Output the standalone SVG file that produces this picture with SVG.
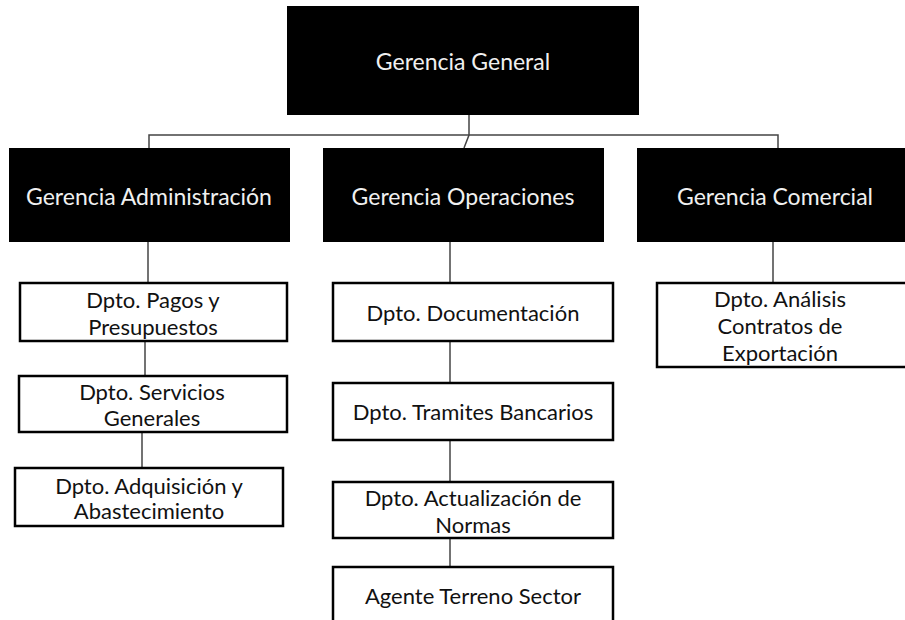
<svg xmlns="http://www.w3.org/2000/svg" width="905" height="620" viewBox="0 0 905 620">
<style>
.dark{fill:#000;stroke:none}
.light{fill:#fff;stroke:#000;stroke-width:2.5}
text{font-family:Lato,"Open Sans","Liberation Sans",sans-serif;font-size:22px;text-anchor:middle}
.w{fill:#f0f0f0;font-size:23px}
.b{fill:#111}
.c{fill:none;stroke:#444;stroke-width:1.5}
</style>
<rect width="905" height="620" fill="#fff"/>
<g id="connectors">
<polyline class="c" points="469,115 469,135 464,148"/>
<polyline class="c" points="149,148 149,135 778,135 778,148"/>
<line class="c" x1="148" y1="242" x2="148" y2="283"/>
<line class="c" x1="145" y1="341" x2="145" y2="376"/>
<line class="c" x1="142" y1="432" x2="142" y2="468"/>
<line class="c" x1="450" y1="242" x2="450" y2="283"/>
<line class="c" x1="450" y1="341" x2="450" y2="383"/>
<line class="c" x1="450" y1="440" x2="450" y2="482"/>
<line class="c" x1="450" y1="538" x2="450" y2="567"/>
<line class="c" x1="773" y1="242" x2="773" y2="283"/>
</g>
<g id="gerencia-general">
<rect class="dark" x="287" y="6" width="352" height="109"/>
<text class="w" x="463" y="70">Gerencia General</text>
</g>
<g id="gerencia-administracion">
<rect class="dark" x="9" y="148" width="281" height="94"/>
<text class="w" x="149" y="205">Gerencia Administración</text>
</g>
<g id="gerencia-operaciones">
<rect class="dark" x="323" y="148" width="281" height="94"/>
<text class="w" x="463" y="205">Gerencia Operaciones</text>
</g>
<g id="gerencia-comercial">
<rect class="dark" x="637" y="148" width="270" height="94"/>
<text class="w" x="775" y="205">Gerencia Comercial</text>
</g>
<g id="dpto-pagos">
<rect class="light" x="20" y="283" width="267" height="58"/>
<text class="b" x="153" y="308">Dpto. Pagos y</text>
<text class="b" x="153" y="335">Presupuestos</text>
</g>
<g id="dpto-servicios">
<rect class="light" x="19" y="376" width="268" height="56"/>
<text class="b" x="152" y="400">Dpto. Servicios</text>
<text class="b" x="152" y="426">Generales</text>
</g>
<g id="dpto-adquisicion">
<rect class="light" x="15" y="468" width="268" height="58"/>
<text class="b" x="149" y="494">Dpto. Adquisición y</text>
<text class="b" x="149" y="519">Abastecimiento</text>
</g>
<g id="dpto-documentacion">
<rect class="light" x="333" y="283" width="280" height="58"/>
<text class="b" x="473" y="321">Dpto. Documentación</text>
</g>
<g id="dpto-tramites">
<rect class="light" x="333" y="383" width="280" height="57"/>
<text class="b" x="473" y="420">Dpto. Tramites Bancarios</text>
</g>
<g id="dpto-actualizacion">
<rect class="light" x="333" y="482" width="280" height="56"/>
<text class="b" x="473" y="506">Dpto. Actualización de</text>
<text class="b" x="473" y="533">Normas</text>
</g>
<g id="agente-terreno">
<rect class="light" x="333" y="567" width="280" height="58"/>
<text class="b" x="473" y="604">Agente Terreno Sector</text>
</g>
<g id="dpto-analisis">
<rect class="light" x="657" y="283" width="250" height="84"/>
<text class="b" x="780" y="307">Dpto. Análisis</text>
<text class="b" x="780" y="334">Contratos de</text>
<text class="b" x="780" y="361">Exportación</text>
</g>
</svg>
